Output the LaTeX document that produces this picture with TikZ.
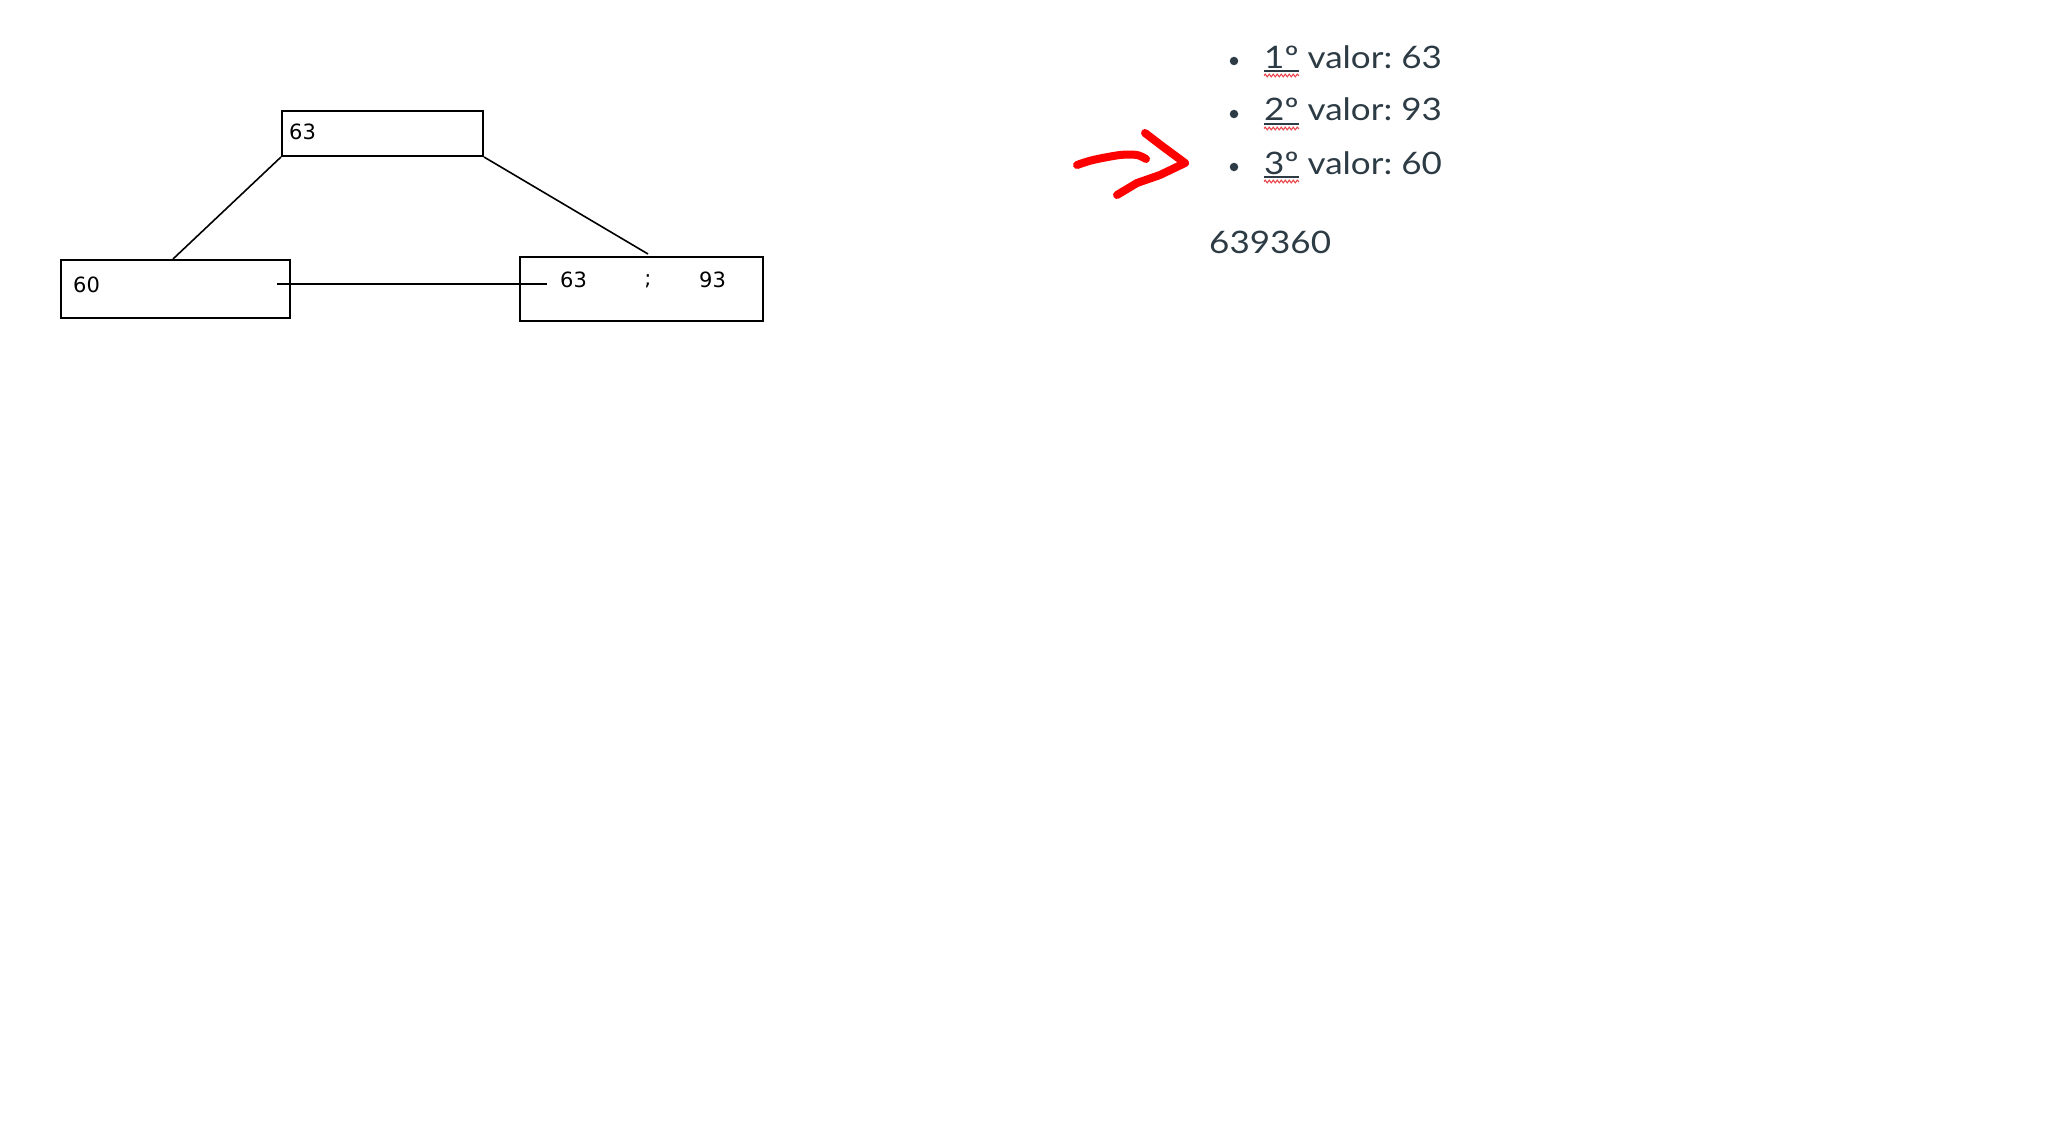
\documentclass[tikz,border=0pt]{standalone}
\usepackage{fontspec}
\setmainfont{Lato}
\newfontfamily\treefont{DejaVu Sans}
\newfontfamily\latofont{Lato}
\usetikzlibrary{decorations.pathmorphing}
\definecolor{canvastext}{HTML}{2D3B45}
\definecolor{spellred}{HTML}{E8434A}
\definecolor{penred}{HTML}{FF0000}
\newcommand{\wide}[1]{\scalebox{1.13}[1]{#1}}
\frenchspacing
\begin{document}
\begin{tikzpicture}[x=1pt,y=-1pt,
  treebox/.style={draw=black,line width=2pt,inner sep=0pt},
  treetext/.style={font=\treefont\fontsize{21}{25}\selectfont,inner sep=0pt,anchor=west},
  edge/.style={draw=black,line width=1.6pt},
  listtext/.style={font=\latofont\fontsize{31}{36}\selectfont\frenchspacing,text=canvastext,inner sep=0pt,anchor=base west},
  bulletdot/.style={circle,fill=canvastext,inner sep=0pt,minimum size=8.5pt},
  spell/.style={draw=spellred,line width=1.1pt,decorate,decoration={snake,segment length=4pt,amplitude=1.3pt}},
  pen/.style={draw=penred,line width=8pt,line cap=round,line join=round}]
\useasboundingbox (0,0) rectangle (2048,1148);
% tree
\node[treebox,minimum width=201pt,minimum height=45pt] (top) at (382.5,133.5) {};
\node[treebox,minimum width=229pt,minimum height=58pt] (left) at (175.5,289) {};
\node[treebox,minimum width=243pt,minimum height=64pt] (right) at (641.5,289) {};
\node[treetext] (t63) at (289,131.5) {63};
\node[treetext] (l60) at (73,285) {60};
\node[treetext] (r63) at (560,280) {63};
\node[treetext,anchor=center] (rsemi) at (648,281) {;};
\node[treetext] (r93) at (699,280) {93};
\coordinate (rend) at (648,254);
\coordinate (hstart) at (277,284);
\coordinate (hend) at (547,284);
\draw[edge] (top.south west) -- (left.north -| 173,0);
\draw[edge] (top.south east) -- (rend);
\draw[edge] (hstart) -- (hend);
% list
\node[bulletdot] (b1) at (1234,61) {};
\node[bulletdot] (b2) at (1234,114) {};
\node[bulletdot] (b3) at (1234,167) {};
\node[listtext] (v1) at (1264,68) {\wide{1º valor: 63}};
\node[listtext] (v2) at (1264,121) {\wide{2º valor: 93}};
\node[listtext] (v3) at (1264,174) {\wide{3º valor: 60}};
\node[listtext] (res) at (1209,253) {\wide{639360}};
\foreach \yy in {68,121,174}{
  \draw[canvastext,line width=1.3pt] (1264,\yy+3) -- (1299,\yy+3);
  \draw[spell] (1264,\yy+7.5) -- (1299,\yy+7.5);
}
% red arrow
\draw[pen] plot[smooth] coordinates {(1077,165) (1093,160) (1120,155) (1137,155) (1146,159)};
\draw[pen] (1145,133) -- (1162,146) -- (1185,163) -- (1160,175) -- (1137,183) -- (1117,195);
\end{tikzpicture}
\end{document}
